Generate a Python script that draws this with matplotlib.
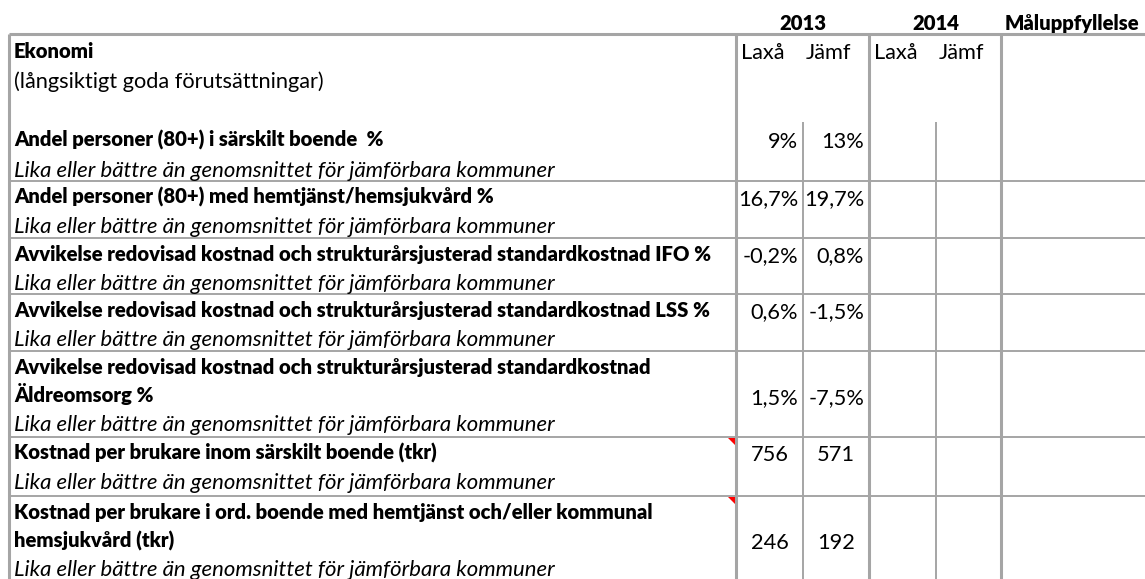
import matplotlib
matplotlib.use("Agg")
import matplotlib.pyplot as plt

plt.rcParams['font.family'] = ['Lato', 'DejaVu Sans']

# table content
section_title = "Ekonomi"
section_subtitle = "(långsiktigt goda förutsättningar)"
years = ["2013", "2014"]
goal_header = "Måluppfyllelse"
sub_headers = ["Laxå", "Jämf"]
goal_note = "Lika eller bättre än genomsnittet för jämförbara kommuner"
indicators = [
    ["Andel personer (80+) i särskilt boende  %"],
    ["Andel personer (80+) med hemtjänst/hemsjukvård %"],
    ["Avvikelse redovisad kostnad och strukturårsjusterad standardkostnad IFO %"],
    ["Avvikelse redovisad kostnad och strukturårsjusterad standardkostnad LSS %"],
    ["Avvikelse redovisad kostnad och strukturårsjusterad standardkostnad", "Äldreomsorg %"],
    ["Kostnad per brukare inom särskilt boende (tkr)"],
    ["Kostnad per brukare i ord. boende med hemtjänst och/eller kommunal", "hemsjukvård (tkr)"],
]
laxa_2013 = ["9%", "16,7%", "-0,2%", "0,6%", "1,5%", "756", "246"]
jamf_2013 = ["13%", "19,7%", "0,8%", "-1,5%", "-7,5%", "571", "192"]
comment_rows = [5, 6]

# layout (pixels)
W, H = 1145, 579
row_tops = [34, 181, 238, 294, 351, 437, 496]
x_left = 9
col_x = [736, 803, 869, 936, 1001]
grid = '#a5a5a5'
thick, thin = 2.2, 1.4
pitch = 28.4
BOLD = 'heavy'

fig = plt.figure(figsize=(W / 100, H / 100), dpi=100)
ax = fig.add_axes([0, 0, 1, 1])
ax.set_xlim(0, W)
ax.set_ylim(H, 0)
ax.axis('off')
renderer = fig.canvas.get_renderer()


def fit(s, target, **kw):
    t = ax.text(0, 0, s, fontsize=12, **kw)
    w = t.get_window_extent(renderer).width
    t.remove()
    return 12 * target / w


fs_bold = fit(indicators[2][0], 698, weight=BOLD)
fs_ital = fit(goal_note, 537, style='italic')
fs_norm = fit(section_subtitle, 309)


def put(x, yc, s, size, **kw):
    # yc = visual centre of capitals -> baseline a bit lower
    ax.text(x, yc + size * 0.47, s, fontsize=size, va='baseline', **kw)


# grid lines
ax.hlines(row_tops[0], x_left, W, color=grid, lw=thick)
ax.hlines(row_tops[1:], x_left, W, color=grid, lw=thin)
ax.vlines([x_left] + [col_x[0], col_x[2], col_x[4]], row_tops[0], H, color=grid, lw=thick)
ax.vlines([col_x[1], col_x[3]], 122, H, color=grid, lw=thin)

# column headers
put(col_x[1], 23, years[0], fs_bold, weight=BOLD, ha='center')
put(col_x[3], 23, years[1], fs_bold, weight=BOLD, ha='center')
put(col_x[4] + 4, 23, goal_header, fs_bold, weight=BOLD)
for x0 in (col_x[0], col_x[2]):
    put(x0 + 5, 52, sub_headers[0], fs_norm)
    put(x0 + 70, 52, sub_headers[1], fs_norm)

# section title block
put(14, 51, section_title, fs_bold, weight=BOLD)
put(14, 81, section_subtitle, fs_norm)

for i, lines in enumerate(indicators):
    top = row_tops[i]
    if i == 0:
        ys = [140 + 30 * k for k in range(len(lines) + 1)]
    else:
        ys = [top + 16 + pitch * k for k in range(len(lines) + 1)]
    for k, s in enumerate(lines):
        put(14, ys[k], s, fs_bold, weight=BOLD)
    put(14, ys[len(lines)], goal_note, fs_ital, style='italic')

    yv = ys[len(lines) - 1] + 1
    for c, vals in enumerate((laxa_2013, jamf_2013)):
        v = vals[i]
        if v.endswith('%'):
            put(col_x[c + 1] - 5, yv, v, fs_norm, ha='right')
        else:
            put((col_x[c] + col_x[c + 1]) / 2, yv, v, fs_norm, ha='center')

    if i in comment_rows:
        ax.fill([727.5, 734.5, 734.5], [top + 1, top + 1, top + 8], color='red', lw=0)

fig.savefig('out.png', dpi=100, facecolor='white')
